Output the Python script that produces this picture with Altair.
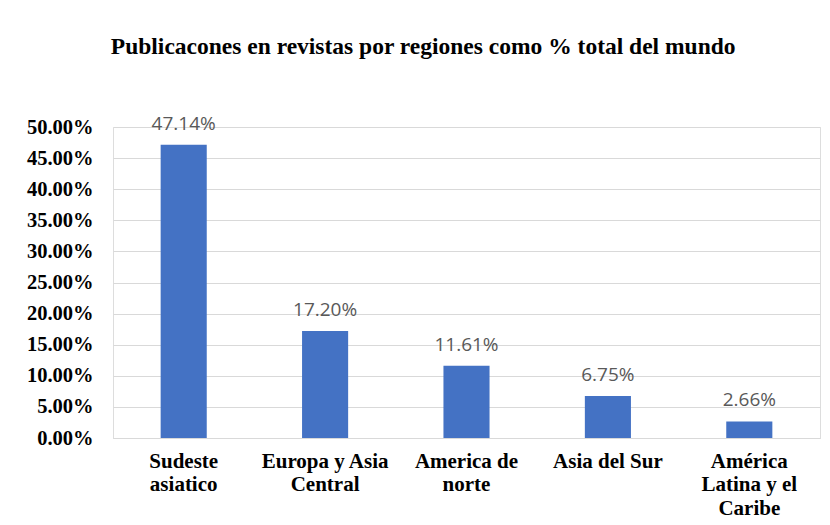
import altair as alt
import pandas as pd

regions = ["Sudeste|asiatico", "Europa y Asia|Central", "America de|norte", "Asia del Sur", "América|Latina y el|Caribe"]
shares = [0.4714, 0.1720, 0.1161, 0.0675, 0.0266]
y_ticks = [0, 0.05, 0.10, 0.15, 0.20, 0.25, 0.30, 0.35, 0.40, 0.45, 0.50]

df = pd.DataFrame({"region": regions, "share": shares})

base = alt.Chart(df).encode(
    x=alt.X("region:N", sort=regions,
            scale=alt.Scale(paddingInner=0.674, paddingOuter=0.337),
            axis=alt.Axis(title=None, labelAngle=0, labelExpr="split(datum.label, '|')",
                          labelFont="Liberation Serif", labelFontWeight="bold", labelFontSize=21,
                          labelColor="black", labelLineHeight=23.5, labelPadding=12,
                          ticks=False, domainColor="#d9d9d9", domainWidth=1.2, labelBaseline="top")),
    y=alt.Y("share:Q", scale=alt.Scale(domain=[0, 0.5], nice=False),
            axis=alt.Axis(title=None, values=y_ticks, format=".2%", ticks=False, domain=False,
                          labelFont="Liberation Serif", labelFontWeight="bold", labelFontSize=20.5,
                          labelColor="black", labelPadding=20, gridColor="#d9d9d9", gridWidth=1.2)),
)

bars = base.mark_bar(color="#4472C4")
labels = base.mark_text(dy=-15, baseline="alphabetic", font="Open Sans", fontSize=19, color="#595959").encode(
    text=alt.Text("share:Q", format=".2%"))

chart = (bars + labels).properties(
    width=707, height=311,
    autosize=alt.AutoSizeParams(type="none"),
    padding={"left": 105, "top": 119, "right": 2, "bottom": 80},
    title=alt.Title("Publicacones en revistas por regiones como % total del mundo",
                    font="Liberation Serif", fontWeight="bold", fontSize=23.5, color="black",
                    anchor="middle", frame="bounds", offset=56),
).configure_view(stroke=None).configure(background="white")

chart.save("out.html", embed_options={"renderer": "svg", "actions": False})
